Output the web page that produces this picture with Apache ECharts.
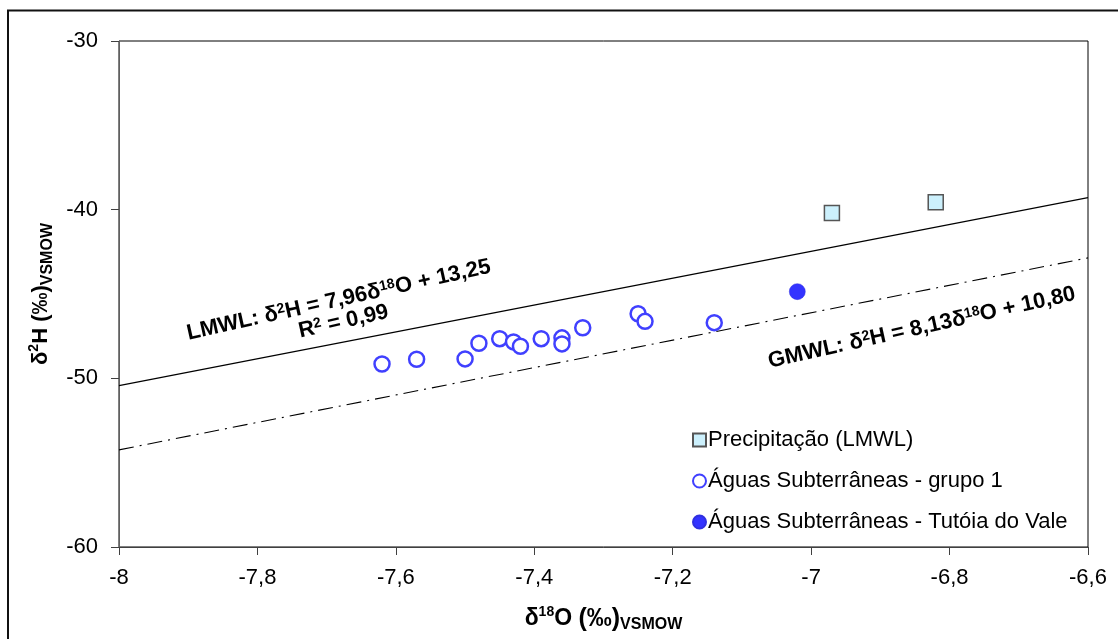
<!DOCTYPE html>
<html>
<head>
<meta charset="utf-8">
<script src="https://cdn.jsdelivr.net/npm/echarts@6/dist/echarts.min.js"></script>
<style>
  html, body { margin: 0; padding: 0; background: #fff; }
  #chart { width: 1118px; height: 639px; }
</style>
</head>
<body>
<div id="chart"></div>
<script>
// δ18O (x) and δ2H (y) in ‰ VSMOW
const precipX = [-6.97, -6.82];
const precipY = [-40.2, -39.56];

const grupo1X = [-7.62, -7.57, -7.50, -7.48, -7.45, -7.43, -7.42, -7.39, -7.36, -7.36, -7.33, -7.25, -7.24, -7.14];
const grupo1Y = [-49.15, -48.87, -48.85, -47.92, -47.65, -47.84, -48.10, -47.65, -47.60, -47.96, -47.00, -46.17, -46.62, -46.70];

const tutoiaX = [-7.02];
const tutoiaY = [-44.86];

// Water lines: δ2H = slope · δ18O + intercept
const lmwlCoef = [7.96, 13.25];
const gmwlCoef = [8.13, 10.80];
const lmwlR2 = 0.99;

// Axis extents and tick steps
const xRange = [-8, -6.6];
const xStep = 0.2;
const yRange = [-60, -30];
const yStep = 10;

const seriesNames = [
  'Precipitação (LMWL)',
  'Águas Subterrâneas - grupo 1',
  'Águas Subterrâneas - Tutóia do Vale'
];

const zip = (xs, ys) => xs.map((x, i) => [x, ys[i]]);
const comma = (v, d) => v.toFixed(d).replace('.', ',');
const lineEnds = (c) => xRange.map(x => [x, c[0] * x + c[1]]);

const chart = echarts.init(document.getElementById('chart'), null, { renderer: 'canvas' });

const FONT = '"Liberation Sans", Arial, sans-serif';

const richTitle = (size) => ({
  b:   { fontFamily: FONT, fontWeight: 'bold', fontSize: size, color: '#000', lineHeight: 28, verticalAlign: 'middle' },
  sup: { fontFamily: FONT, fontWeight: 'bold', fontSize: 14, color: '#000', lineHeight: 28, verticalAlign: 'top' },
  pm:  { fontFamily: FONT, fontWeight: 'bold', fontSize: size + 2, color: '#000', lineHeight: 28, verticalAlign: 'middle' },
  sub: { fontFamily: FONT, fontWeight: 'bold', fontSize: 16, color: '#000', lineHeight: 12, verticalAlign: 'bottom' }
});

chart.setOption({
  animation: false,
  backgroundColor: '#fff',
  grid: { left: 119, right: 30, top: 41, bottom: 92, show: true, borderColor: '#000', borderWidth: 1 },
  xAxis: {
    type: 'value',
    min: xRange[0], max: xRange[1], interval: xStep,
    splitLine: { show: false },
    axisLine: { onZero: false, lineStyle: { color: '#404040', width: 1 } },
    axisTick: { show: true, length: 8, lineStyle: { color: '#404040' } },
    axisLabel: {
      margin: 20, fontFamily: FONT, fontSize: 22, color: '#000',
      formatter: v => String(Math.round(v * 10) / 10).replace('.', ',')
    },
    name: '{b|δ}{sup|18}{b|O }{pm|(‰)}{sub|VSMOW}',
    nameLocation: 'middle', nameGap: 58,
    nameTextStyle: { rich: richTitle(23) }
  },
  yAxis: {
    type: 'value',
    min: yRange[0], max: yRange[1], interval: yStep,
    splitLine: { show: false },
    axisLine: { onZero: false, lineStyle: { color: '#606060', width: 1 } },
    axisTick: { show: true, length: 8, lineStyle: { color: '#404040' } },
    axisLabel: { margin: 21, fontFamily: FONT, fontSize: 22, color: '#000' },
    name: '{b|δ}{sup|2}{b|H (‰)}{sub|VSMOW}',
    nameLocation: 'middle', nameGap: 62,
    nameTextStyle: { rich: richTitle(22) }
  },
  legend: {
    orient: 'vertical',
    left: 692, top: 429,
    itemWidth: 13, itemHeight: 13, itemGap: 19,
    padding: 0,
    textStyle: { fontFamily: FONT, fontSize: 22, color: '#000', padding: [0, 0, 0, -3] },
    data: seriesNames
  },
  series: [
    {
      name: seriesNames[0], type: 'scatter', z: 4,
      symbol: 'rect', symbolSize: 15,
      itemStyle: { color: '#ccf0fc', borderColor: '#555', borderWidth: 1.5, opacity: 1 },
      data: zip(precipX, precipY)
    },
    {
      name: seriesNames[1], type: 'scatter', z: 4,
      symbol: 'circle', symbolSize: 15,
      itemStyle: { color: '#fff', borderColor: '#4040ff', borderWidth: 2.5, opacity: 1 },
      data: zip(grupo1X, grupo1Y)
    },
    {
      name: seriesNames[2], type: 'scatter', z: 5,
      symbol: 'circle', symbolSize: 16,
      itemStyle: { color: '#3333ff', borderColor: '#3030e0', borderWidth: 0.5, opacity: 1 },
      data: zip(tutoiaX, tutoiaY)
    },
    {
      name: 'LMWL', type: 'line', z: 2, showSymbol: false, silent: true,
      lineStyle: { color: '#000', width: 1.1 },
      data: lineEnds(lmwlCoef)
    },
    {
      name: 'GMWL', type: 'line', z: 2, showSymbol: false, silent: true,
      lineStyle: { color: '#000', width: 1.1, type: [15, 6, 2, 6] },
      data: lineEnds(gmwlCoef)
    }
  ]
});

// Equation labels, laid along the two lines
const richEq = {
  b:   { fontFamily: FONT, fontWeight: 'bold', fontSize: 22, color: '#000', lineHeight: 22, verticalAlign: 'middle' },
  sup: { fontFamily: FONT, fontWeight: 'bold', fontSize: 14, color: '#000', lineHeight: 22, verticalAlign: 'top' }
};
const angle = 12.5 * Math.PI / 180;
const lmwlAnchor = chart.convertToPixel({ gridIndex: 0 }, [-7.679, -46.0]);
const gmwlAnchor = chart.convertToPixel({ gridIndex: 0 }, [-6.840, -47.0]);

const eqText = (name, c) =>
  `{b|${name}: δ}{sup|2}{b|H = ${comma(c[0], 2)}δ}{sup|18}{b|O + ${comma(c[1], 2)}}`;

chart.setOption({
  graphic: [
    {
      type: 'rect', silent: true, z: -1,
      shape: { x: 8, y: 10.5, width: 1300, height: 800 },
      style: { fill: null, stroke: '#111', lineWidth: 2 }
    },
    {
      type: 'text', silent: true,
      x: lmwlAnchor[0], y: lmwlAnchor[1], rotation: angle,
      style: {
        text: eqText('LMWL', lmwlCoef) + '\n' + `{b|R}{sup|2}{b| = ${comma(lmwlR2, 2)}}`,
        rich: richEq, align: 'center', verticalAlign: 'middle'
      }
    },
    {
      type: 'text', silent: true,
      x: gmwlAnchor[0], y: gmwlAnchor[1], rotation: angle,
      style: {
        text: eqText('GMWL', gmwlCoef),
        rich: richEq, align: 'center', verticalAlign: 'middle'
      }
    }
  ]
});
</script>
</body>
</html>
